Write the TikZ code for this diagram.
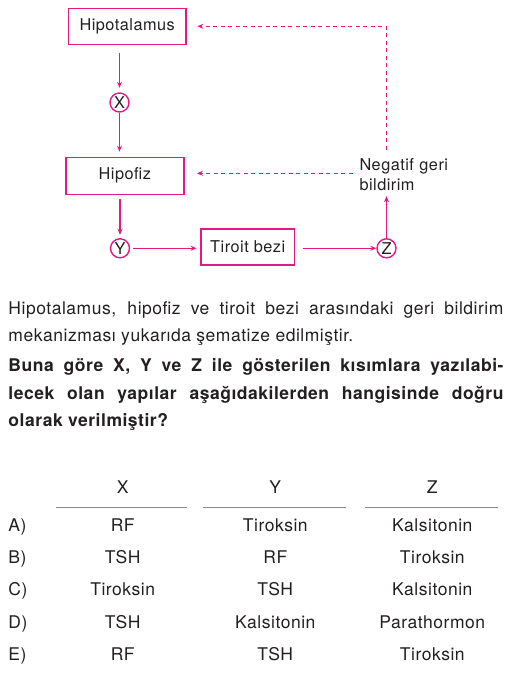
\documentclass[tikz,border=0pt]{standalone}
\usepackage{fontspec}
\setmainfont{TeX Gyre Heros}[LetterSpace=3]
\usepackage{xcolor}
\usepackage{tikz}
\usetikzlibrary{positioning}
\usetikzlibrary{calc}
\usetikzlibrary{arrows.meta}
\definecolor{pembe}{RGB}{230,25,130}
\definecolor{yazi}{RGB}{35,31,32}
\definecolor{cizgi}{RGB}{138,138,138}
\tikzset{
    kutu/.style={draw, color=pembe, text=yazi, line width=1.6pt, minimum height=36pt,
        inner sep=0pt, font=\fontsize{16.3}{20}\selectfont},
    halka/.style={circle, draw, color=pembe, text=yazi, line width=1.4pt, minimum size=19pt,
        inner sep=0pt, font=\fontsize{16.3}{20}\selectfont},
    ok/.style={->, color=pembe, line width=1.1pt},
    kesik/.style={->, color=pembe, line width=1.1pt, dash pattern=on 4pt off 3.5pt},
    hucre/.style={anchor=base, inner sep=0pt, text=yazi, font=\fontsize{17.5}{20}\selectfont},
    harf/.style={anchor=base west, inner sep=0pt, text=yazi, font=\fontsize{17.5}{20}\selectfont}
}

\begin{document}
\begin{tikzpicture}[x=1pt, y=-1pt, >={Stealth[length=6pt,width=5pt]}]
    \useasboundingbox (0,0) rectangle (511,675);

        % sema
        \node [kutu, minimum width=117.7pt] (hipot) at (127.2,26.3) {Hipotalamus};
        \node [halka] (x) at (119.5,102.5) {X};
        \node [kutu, minimum width=118pt, minimum height=37pt] (hipof) at (124.8,175.8) {Hipofiz};
        \node [halka] (y) at (120,248.3) {Y};
        \node [kutu, minimum width=93.3pt] (tiroit) at (247.7,247) {Tiroit bezi};
        \node [halka] (z) at (386.5,248.3) {Z};
        \node [anchor=base west, inner sep=0pt, text width=90pt, align=left, text=yazi,
            font=\fontsize{16.3}{20}\selectfont] (neg) at (359.3,170.7) {Negatif geri\\bildirim};

        \draw [ok, shorten <=7.7pt, shorten >=4.5pt] (hipot.south -| x) -- (x);
        \draw [ok, shorten >=4.8pt] (x) -- (x |- hipof.north);
        \draw [ok, shorten <=3.6pt, shorten >=3.3pt] (hipof.south -| y) -- (y);
        \draw [ok, shorten <=2.5pt, shorten >=3.7pt] (y) -- (y -| tiroit.west);
        \draw [ok, shorten <=7.4pt] (tiroit.east |- z) -- (z);
        \draw [ok, shorten >=5pt] (z) -- (z |- neg.south);

        \draw [kesik, shorten <=9pt, shorten >=10.5pt] (neg.north -| z) |- (hipot);
        \draw [kesik, shorten <=6.6pt, shorten >=12.3pt]
            ([yshift=2.5pt]neg.west |- hipof.east) -- ([yshift=2.5pt]hipof.east);

        % soru metni
        \node [anchor=base west, inner sep=0pt, text width=495pt, align=justify, text=yazi,
            font=\fontsize{17.5}{27.5}\selectfont] (metin) at (8.3,314.3)
            {Hipotalamus, hipofiz ve tiroit bezi arasındaki geri bildirim\linebreak
            mekanizması yukarıda şematize edilmiştir.};
        \node [anchor=base west, inner sep=0pt, text width=495pt, align=justify, text=yazi,
            font=\bfseries\fontsize{17.5}{27.5}\selectfont] (soru) at (8.3,371.7)
            {Buna göre X, Y ve Z ile gösterilen kısımlara yazılabi-\linebreak
            lecek olan yapılar aşağıdakilerden hangisinde doğru\linebreak
            olarak verilmiştir?};

        % secenekler
        \node [hucre] (bx) at (122.7,493.3) {X};
        \node [hucre] (by) at (275.3,493.3) {Y};
        \node [hucre] (bz) at (432.3,493.3) {Z};

        \coordinate (cx1) at (56,507.7);
        \coordinate (cx2) at (186.7,507.7);
        \coordinate (cy1) at (203.3,507.7);
        \coordinate (cy2) at (345.7,507.7);
        \coordinate (cz1) at (365,507.7);
        \coordinate (cz2) at (497.7,507.7);
        \draw [cizgi, line width=1.5pt] (cx1) -- (cx2);
        \draw [cizgi, line width=1.5pt] (cy1) -- (cy2);
        \draw [cizgi, line width=1.5pt] (cz1) -- (cz2);

        \node [harf] (a) at (8.3,531.7) {A)};
        \node [hucre] (xa) at (122.7,531.7) {RF};
        \node [hucre] (ya) at (275.3,531.7) {Tiroksin};
        \node [hucre] (za) at (432.3,531.7) {Kalsitonin};

        \node [harf] (b) at (8.3,563.8) {B)};
        \node [hucre] (xb) at (122.7,563.8) {TSH};
        \node [hucre] (yb) at (275.3,563.8) {RF};
        \node [hucre] (zb) at (432.3,563.8) {Tiroksin};

        \node [harf] (c) at (8.3,595.9) {C)};
        \node [hucre] (xc) at (122.7,595.9) {Tiroksin};
        \node [hucre] (yc) at (275.3,595.9) {TSH};
        \node [hucre] (zc) at (432.3,595.9) {Kalsitonin};

        \node [harf] (d) at (8.3,628) {D)};
        \node [hucre] (xd) at (122.7,628) {TSH};
        \node [hucre] (yd) at (275.3,628) {Kalsitonin};
        \node [hucre] (zd) at (432.3,628) {Parathormon};

        \node [harf] (e) at (8.3,660.1) {E)};
        \node [hucre] (xe) at (122.7,660.1) {RF};
        \node [hucre] (ye) at (275.3,660.1) {TSH};
        \node [hucre] (ze) at (432.3,660.1) {Tiroksin};
\end{tikzpicture}
\end{document}
